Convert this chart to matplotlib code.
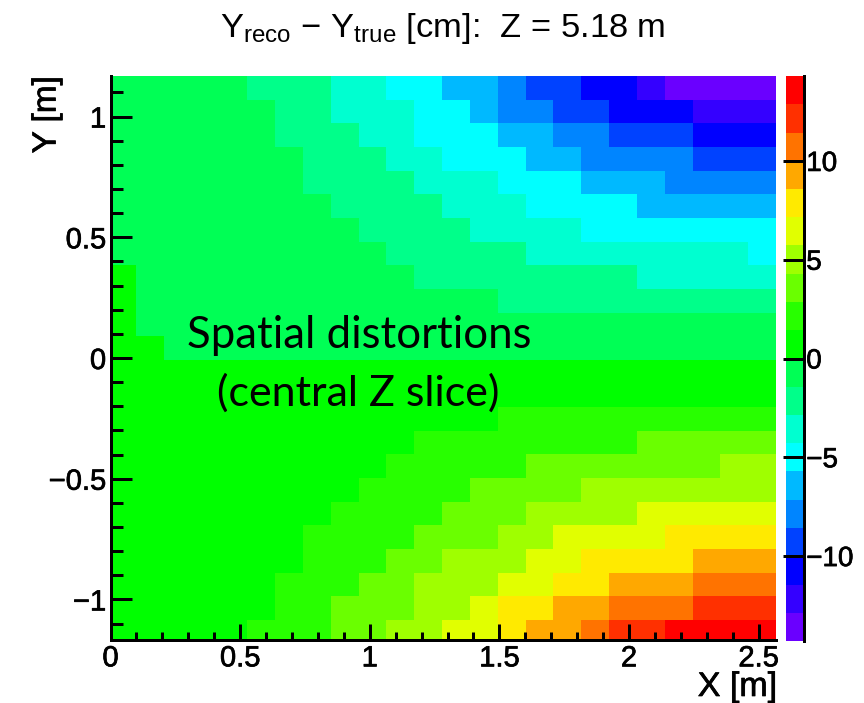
import numpy as np
import matplotlib
matplotlib.use("Agg")
import matplotlib.pyplot as plt
import matplotlib.patheffects as pe
from matplotlib.colors import ListedColormap, BoundaryNorm

plt.rcParams['font.family'] = ['Liberation Sans', 'DejaVu Sans']
plt.rcParams['mathtext.fontset'] = 'custom'
plt.rcParams['mathtext.rm'] = 'Liberation Sans'
plt.rcParams['mathtext.default'] = 'rm'

# Colour contour levels of the z axis (cm)
z_edges = np.linspace(-14.3, 14.3, 21)
level_colors = ['#6a00ff', '#3400ff', '#0000ff', '#0042ff', '#0085ff',
                '#00b9ff', '#00ffff', '#00ffd0', '#00ff8a', '#00ff55',
                '#00ff00', '#28ff00', '#6aff00', '#9fff00', '#e1ff00',
                '#ffea00', '#ffa800', '#ff7300', '#ff3000', '#ff0000']

# Bin edges (m)
x_edges = np.linspace(-0.009, 2.567, 25)
y_edges = np.linspace(-1.183, 1.168, 25)

# Y_reco - Y_true (cm) per bin; rows listed from the top (high Y) down
a, b, c, d, e, f, g, h, i, j = -13.6, -12.2, -10.7, -9.3, -7.9, -6.4, -5.0, -3.6, -2.1, -0.7
k, l, m, n, o, p, q, r, s, t = 0.7, 2.1, 3.6, 5.0, 6.4, 7.9, 9.3, 10.7, 12.2, 13.6
dy_rows = [
    [j,j,j,j,j,i,i,i,h,h,g,g,f,f,e,d,d,c,c,b,a,a,a,a],
    [j,j,j,j,j,j,i,i,h,h,h,g,g,f,e,e,d,d,c,c,c,b,b,b],
    [j,j,j,j,j,j,i,i,i,h,h,g,g,g,f,f,e,e,d,d,d,c,c,c],
    [j,j,j,j,j,j,j,i,i,i,h,h,g,g,g,f,f,e,e,e,e,d,d,d],
    [j,j,j,j,j,j,j,i,i,i,i,h,h,h,g,g,g,f,f,f,e,e,e,e],
    [j,j,j,j,j,j,j,j,i,i,i,i,h,h,h,g,g,g,g,f,f,f,f,f],
    [j,j,j,j,j,j,j,j,j,i,i,i,i,h,h,h,h,g,g,g,g,g,g,g],
    [j,j,j,j,j,j,j,j,j,j,i,i,i,i,i,h,h,h,h,h,h,h,h,g],
    [k,j,j,j,j,j,j,j,j,j,j,i,i,i,i,i,i,i,i,h,h,h,h,h],
    [k,j,j,j,j,j,j,j,j,j,j,j,j,j,i,i,i,i,i,i,i,i,i,i],
    [k,j,j,j,j,j,j,j,j,j,j,j,j,j,j,j,j,j,j,j,j,j,j,j],
    [k,k,j,j,j,j,j,j,j,j,j,j,j,j,j,j,j,j,j,j,j,j,j,j],
    [k,k,k,k,k,k,k,k,k,k,k,k,k,k,k,k,k,k,k,k,k,k,k,k],
    [k,k,k,k,k,k,k,k,k,k,k,k,k,k,k,k,k,k,k,k,k,k,k,k],
    [k,k,k,k,k,k,k,k,k,k,k,k,k,k,l,l,l,l,l,l,l,l,l,l],
    [k,k,k,k,k,k,k,k,k,k,k,l,l,l,l,l,l,l,l,m,m,m,m,m],
    [k,k,k,k,k,k,k,k,k,k,l,l,l,l,l,m,m,m,m,m,m,m,n,n],
    [k,k,k,k,k,k,k,k,k,l,l,l,l,m,m,m,m,n,n,n,n,n,n,n],
    [k,k,k,k,k,k,k,k,l,l,l,l,m,m,m,n,n,n,n,o,o,o,o,o],
    [k,k,k,k,k,k,k,l,l,l,l,m,m,m,n,n,o,o,o,o,p,p,p,p],
    [k,k,k,k,k,k,k,l,l,l,m,m,n,n,n,o,o,p,p,p,p,q,q,q],
    [k,k,k,k,k,k,l,l,l,m,m,n,n,n,o,o,p,p,q,q,q,r,r,r],
    [k,k,k,k,k,k,l,l,m,m,m,n,n,o,p,p,q,q,r,r,r,s,s,s],
    [k,k,k,k,k,l,l,l,m,m,n,n,o,o,p,q,q,r,s,s,t,t,t,t],
]

x_major = [0, 0.5, 1, 1.5, 2, 2.5]
x_labels = ['0', '0.5', '1', '1.5', '2', '2.5']
y_major = [-1, -0.5, 0, 0.5, 1]
y_labels = ['\u22121', '\u22120.5', '0', '0.5', '1']
x_minor = [0.1, 0.2, 0.3, 0.4, 0.6, 0.7, 0.8, 0.9, 1.1, 1.2, 1.3, 1.4,
           1.6, 1.7, 1.8, 1.9, 2.1, 2.2, 2.3, 2.4]
y_minor = [-1.1, -0.9, -0.8, -0.7, -0.6, -0.4, -0.3, -0.2, -0.1,
           0.1, 0.2, 0.3, 0.4, 0.6, 0.7, 0.8, 0.9, 1.1]
z_ticks = [-10, -5, 0, 5, 10]
z_labels = ['\u221210', '\u22125', '0', '5', '10']

W, H = 864, 703
fig = plt.figure(figsize=(W / 100, H / 100), dpi=100, facecolor='white')
heavy = [pe.withStroke(linewidth=0.5, foreground='black')]


def px_axes(l_px, t_px, r_px, b_px):
    return fig.add_axes([l_px / W, 1 - b_px / H, (r_px - l_px) / W, (b_px - t_px) / H])


ax = px_axes(110.5, 76, 776, 639.5)
cmap = ListedColormap(level_colors)
norm = BoundaryNorm(z_edges, cmap.N)
mesh = ax.pcolormesh(x_edges, y_edges, np.array(dy_rows)[::-1], cmap=cmap, norm=norm,
                     linewidth=0, antialiased=False)
ax.set_xlim(0, 2.567)
ax.set_ylim(-1.166, 1.168)
ax.spines['top'].set_visible(False)
ax.spines['right'].set_visible(False)
for side in ('left', 'bottom'):
    ax.spines[side].set_linewidth(2.16)
ax.set_xticks(x_major, x_labels)
ax.set_yticks(y_major, y_labels)
ax.set_xticks(x_minor, minor=True)
ax.set_yticks(y_minor, minor=True)
ax.tick_params(axis='x', which='major', direction='in', length=11.5, width=2.16, labelsize=21, pad=3.5)
ax.tick_params(axis='x', which='minor', direction='in', length=5.6, width=2.16)
ax.tick_params(axis='y', which='major', direction='in', length=14.8, width=2.16, labelsize=21, pad=3.2)
ax.tick_params(axis='y', which='minor', direction='in', length=8.3, width=2.16)

cax = px_axes(786, 76, 803.5, 641)
cb = fig.colorbar(mesh, cax=cax, ticks=z_ticks)
cb.outline.set_visible(False)
cb.minorticks_off()
cax.set_yticklabels(z_labels)
cax.spines['right'].set_visible(True)
cax.spines['right'].set_linewidth(2.16)
cax.tick_params(axis='y', which='major', direction='in', length=15, width=2.16, labelsize=20, pad=2)

for lab in ax.get_xticklabels() + ax.get_yticklabels() + cax.get_yticklabels():
    lab.set_path_effects(heavy)

fig.text(777 / W, 1 - 687.5 / H, 'X [m]', fontsize=24.5, ha='right', va='center', path_effects=heavy)
fig.text(47 / W, 1 - 76 / H, 'Y [m]', fontsize=24, rotation=90, ha='center', va='top', path_effects=heavy)
fig.text(443 / W, 1 - 37 / H,
         'Y$_{\\mathrm{reco}}$ \u2212 Y$_{\\mathrm{true}}$ [cm]:  Z = 5.18 m',
         fontsize=24.8, ha='center', va='baseline')
fig.text(359.5 / W, 1 - 335 / H, 'Spatial distortions', family='Lato', fontsize=31.5, ha='center', va='center')
fig.text(358.5 / W, 1 - 393 / H, '(central Z slice)', family='Lato', fontsize=31, ha='center', va='center')

fig.savefig('out.png', dpi=100)
